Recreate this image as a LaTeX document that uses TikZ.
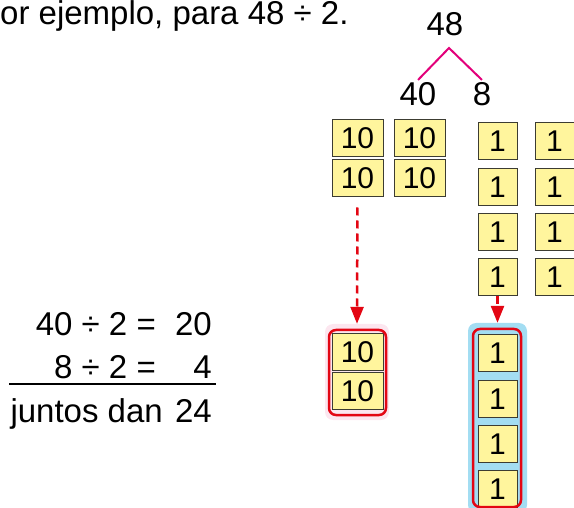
\documentclass[tikz,border=0pt]{standalone}
\usepackage{fontspec}
\setmainfont{Liberation Sans}
\usetikzlibrary{arrows.meta}

\definecolor{tileyellow}{HTML}{FFF59D}
\definecolor{tileedge}{HTML}{3C3C32}
\definecolor{treepink}{HTML}{E2007A}
\definecolor{markred}{HTML}{E30613}
\definecolor{groupblue}{HTML}{A3DDF2}
\definecolor{grouppink}{HTML}{FCE6EF}

\tikzset{
  tile/.style={draw=tileedge, fill=tileyellow, line width=1pt, inner sep=0pt, font=\fontsize{30}{33}\selectfont},
  tenTile/.style={tile, minimum width=51pt, minimum height=37pt},
  oneTile/.style={tile, minimum width=39pt, minimum height=37pt},
  moveArrow/.style={markred, line width=2.5pt, dash pattern=on 8pt off 5pt, -{Triangle[length=17pt,width=13pt]}},
  selBox/.style={draw=markred, line width=2.5pt, rounded corners=7pt, inner sep=0pt},
  bgBox/.style={rounded corners=8pt, inner sep=0pt},
  bigText/.style={font=\fontsize{33}{38}\selectfont, inner sep=0pt},
  treeLine/.style={treepink, line width=2pt},
}

\begin{document}
\begin{tikzpicture}[x=1pt, y=-1pt]
	\useasboundingbox (0,0) rectangle (574,508);
	% heading and split of 48
	\node[bigText, anchor=base west] (intro) at (0,25) {or ejemplo, para 48 ÷ 2.};
	\node[bigText, anchor=base] (n48) at (445,36) {48};
	\node[bigText, anchor=base, outer sep=3pt] (n40) at (418,106) {40};
	\node[bigText, anchor=base, outer sep=3pt] (n8) at (482,106) {8};
	\coordinate (split) at (449,48);
	\draw[treeLine] (n40.north) -- (split) -- (n8.north);

	% tens and ones
	\node[tenTile] (ten1) at (357.5,138.5) {10};
	\node[tenTile] (ten2) at (419.5,138.5) {10};
	\node[tenTile] (ten3) at (357.5,178.5) {10};
	\node[tenTile] (ten4) at (419.5,178.5) {10};
	\foreach \r [evaluate=\r as \yy using {141.5+45.3*(\r-1)}] in {1,...,4} {
		\node[oneTile] (one\r a) at (497.5,\yy) {1};
		\node[oneTile] (one\r b) at (554.5,\yy) {1};
	}

	% halves
	\node[bgBox, fill=grouppink, minimum width=64pt, minimum height=96pt] (grpTen) at (357,372) {};
	\node[bgBox, fill=groupblue, minimum width=59pt, minimum height=190pt] (grpOne) at (497.5,418) {};
	\node[tenTile] (half1) at (357.5,352) {10};
	\node[tenTile] (half2) at (357.5,391) {10};
	\foreach \r [evaluate=\r as \yy using {353.5+45.3*(\r-1)}] in {1,...,4} {
		\node[oneTile] (half\r b) at (497.5,\yy) {1};
	}
	\node[selBox, minimum width=57pt, minimum height=85pt] (selTen) at (357.5,372.5) {};
	\node[selBox, minimum width=48pt, minimum height=178pt] (selOne) at (497,418) {};
	\draw[moveArrow, shorten <=10pt] (ten3.south) -- (grpTen.north);
	\draw[moveArrow] (one4a.south) -- (grpOne.north);

	% sums
	\node[bigText, anchor=base east] (eqA) at (156,336) {40 ÷ 2 =};
	\node[bigText, anchor=base east] (resA) at (212,336) {20};
	\node[bigText, anchor=base east] (eqB) at (156,378) {8 ÷ 2 =};
	\node[bigText, anchor=base east] (resB) at (212,378) {4};
	\coordinate (ruleL) at (9,384);
	\coordinate (ruleR) at (216,384);
	\draw[line width=2pt] (ruleL) -- (ruleR);
	\node[bigText, anchor=base east] (sumLbl) at (163,422) {juntos dan};
	\node[bigText, anchor=base east] (sumRes) at (212,422) {24};
\end{tikzpicture}
\end{document}
